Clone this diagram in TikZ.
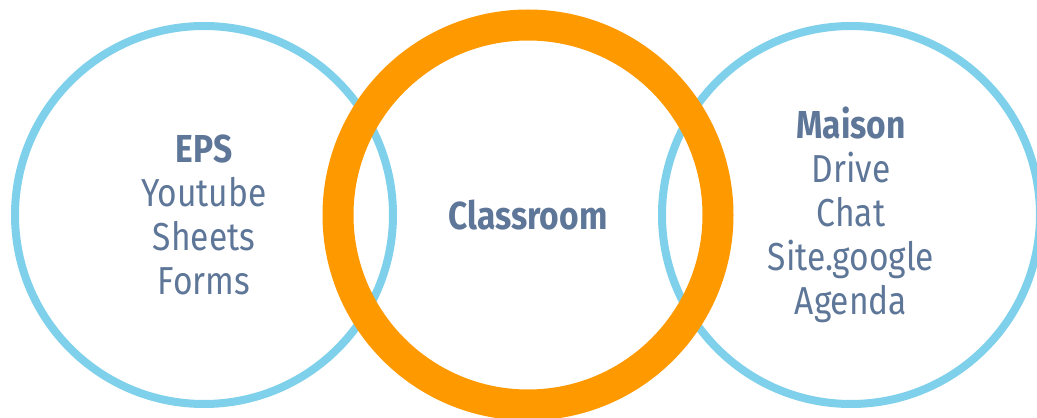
\documentclass[tikz,border=0pt]{standalone}
\usepackage{fontspec}
\setmainfont[FakeStretch=0.86]{Fira Sans}
\usepackage{tikz}

\definecolor{ringblue}{RGB}{127,208,234}
\definecolor{ringorange}{RGB}{254,153,0}
\definecolor{labelslate}{RGB}{94,118,152}

\begin{document}
\begin{tikzpicture}[x=1pt, y=1pt, every node/.style={circle, inner sep=0pt, align=center, text=labelslate, font=\fontsize{39}{44}\selectfont}]
        \useasboundingbox (0,0) rectangle (1037,418);

        \node (eps) [draw=ringblue, line width=8pt, minimum size=378pt] at (204,203) {
            \textbf{EPS} \\ Youtube \\ Sheets \\ Forms
        };

        \node (maison) [draw=ringblue, line width=8pt, minimum size=378pt] at (851,203) {
            \textbf{Maison} \\ Drive \\ Chat \\ Site.google \\ Agenda
        };

        \node (classroom) [draw=ringorange, line width=31pt, minimum size=380pt] at (528,203) {\textbf{Classroom}};
    \end{tikzpicture}
\end{document}
